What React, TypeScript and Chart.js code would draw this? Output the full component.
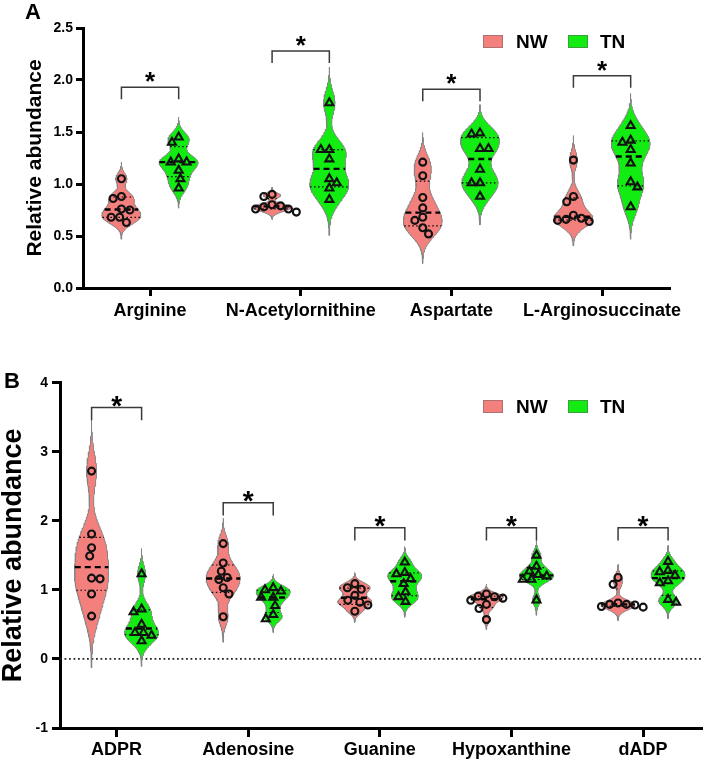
import React, { useEffect, useRef } from 'react';
import { Chart, registerables } from 'chart.js';

Chart.register(...registerables);

const FONT = "'Liberation Sans', Arial, Helvetica, sans-serif";
Chart.defaults.font.family = FONT;
Chart.defaults.color = '#000';

// ---------- Panel A data ----------
const categoriesA = ['Arginine', 'N-Acetylornithine', 'Aspartate', 'L-Arginosuccinate'];
const nwA = [
  [1.05, 0.88, 0.86, 0.76, 0.75, 0.68, 0.68, 0.63],
  [0.90, 0.88, 0.80, 0.79, 0.78, 0.76, 0.76, 0.73],
  [1.21, 1.08, 0.87, 0.77, 0.68, 0.65, 0.58, 0.52],
  [1.23, 0.88, 0.83, 0.70, 0.67, 0.66, 0.65, 0.64],
];
const tnA = [
  [1.45, 1.40, 1.24, 1.21, 1.21, 1.13, 1.05, 0.96],
  [1.78, 1.33, 1.33, 1.24, 1.05, 1.01, 0.96, 0.85],
  [1.49, 1.48, 1.34, 1.34, 1.14, 1.01, 1.01, 0.88],
  [1.56, 1.42, 1.40, 1.33, 1.20, 1.02, 0.97, 0.78],
];
const bracketA = [1.93, 2.28, 1.91, 2.04];
const yTicksA = [0, 0.5, 1.0, 1.5, 2.0, 2.5];

// ---------- Panel B data ----------
const categoriesB = ['ADPR', 'Adenosine', 'Guanine', 'Hypoxanthine', 'dADP'];
const nwB = [
  [2.72, 1.81, 1.61, 1.49, 1.17, 1.16, 0.94, 0.62],
  [1.67, 1.39, 1.27, 1.18, 1.15, 1.03, 0.94, 0.61],
  [1.09, 1.03, 1.01, 0.92, 0.85, 0.82, 0.78, 0.69],
  [0.94, 0.91, 0.90, 0.88, 0.85, 0.79, 0.73, 0.57],
  [1.18, 1.08, 0.81, 0.79, 0.79, 0.78, 0.76, 0.75],
];
const tnB = [
  [1.23, 0.72, 0.68, 0.50, 0.38, 0.38, 0.34, 0.26],
  [1.03, 1.00, 0.98, 0.89, 0.89, 0.77, 0.64, 0.58],
  [1.40, 1.25, 1.23, 1.16, 1.09, 0.97, 0.90, 0.83],
  [1.50, 1.34, 1.27, 1.22, 1.20, 1.15, 1.15, 0.85],
  [1.41, 1.28, 1.26, 1.21, 1.13, 1.10, 0.86, 0.82],
];
const bracketB = [3.64, 2.26, 1.90, 1.90, 1.90];
const yTicksB = [-1, 0, 1, 2, 3, 4];

const seriesNames = ['NW', 'TN'];

const NW_FILL = '#F4807E';
const TN_FILL = '#12EC12';
const OUTLINE = '#858585';

// ---------- helpers ----------
function quantile(v: number[], p: number) {
  const s = [...v].sort((a, b) => a - b);
  const n = s.length;
  let pos = (n + 1) * p - 1;
  if (pos < 0) pos = 0;
  if (pos > n - 1) pos = n - 1;
  const lo = Math.floor(pos), hi = Math.ceil(pos);
  return s[lo] + (s[hi] - s[lo]) * (pos - lo);
}
function stdev(v: number[]) {
  const m = v.reduce((a, b) => a + b, 0) / v.length;
  return Math.sqrt(v.reduce((a, b) => a + (b - m) * (b - m), 0) / (v.length - 1));
}
function violinGeom(vals: number[], halfW: number) {
  const h = 0.59 * stdev(vals) * Math.pow(vals.length, -0.2);
  const lo = Math.min(...vals) - 3 * h;
  const hi = Math.max(...vals) + 3 * h;
  const dens = (y: number) => vals.reduce((s, v) => s + Math.exp(-0.5 * ((y - v) / h) ** 2), 0);
  const N = 160;
  const ys: number[] = [];
  const ds: number[] = [];
  for (let i = 0; i <= N; i++) {
    const y = lo + ((hi - lo) * i) / N;
    ys.push(y);
    ds.push(dens(y));
  }
  const maxD = Math.max(...ds);
  return { ys, ws: ds.map((d) => (d / maxD) * halfW), width: (y: number) => (dens(y) / maxD) * halfW };
}
function swarm(vals: number[], pxY: number, D: number) {
  const idx = vals.map((_, i) => i).sort((a, b) => vals[b] - vals[a]);
  const placed: { x: number; y: number }[] = [];
  const out = new Array(vals.length).fill(0);
  let flip = 1;
  idx.forEach((i) => {
    const y = vals[i] * pxY;
    const ivs: [number, number][] = [];
    placed.forEach((p) => {
      const dy = Math.abs(p.y - y);
      if (dy < D) {
        const dx = Math.sqrt(D * D - dy * dy);
        ivs.push([p.x - dx, p.x + dx]);
      }
    });
    const cands = [0];
    ivs.forEach(([a, b]) => cands.push(a, b));
    const f = flip;
    cands.sort((a, b) => Math.abs(a) - Math.abs(b) || (a - b) * f);
    const x = cands.find((c) => ivs.every(([a, b]) => c <= a + 1e-9 || c >= b - 1e-9)) ?? 0;
    if (x !== 0) flip = -flip;
    placed.push({ x, y });
    out[i] = x;
  });
  return out;
}

type Spec = {
  cats: string[]; nw: number[][]; tn: number[][]; brackets: number[]; yTicks: number[];
  yFmt: (v: number) => string; xMin: number; xMax: number; height: number;
  padTop: number; padRight: number; xAxisH: number; yAxisW: number;
  xTickLen: number; xTickPad: number; yTickLen: number; yTickPad: number;
  titleSize: number; titlePad: number; legPx: number; starGap: number; starSize: number;
  zeroLine: boolean; letter: string; letterX: number; letterY: number; letterSize: number;
  legendTop: number; tickFont: number;
};

const OFFSET = 0.19;
const HALFW = 0.129;
const DOT = 8.5;

function buildDatasets(spec: Spec, pxX: number, pxY: number) {
  const ds: any[] = [];
  const groups = [
    { data: spec.nw, off: -OFFSET, fill: NW_FILL, style: 'circle', r: 3.5, name: seriesNames[0] },
    { data: spec.tn, off: OFFSET, fill: TN_FILL, style: 'triangle', r: 4.6, name: seriesNames[1] },
  ];
  groups.forEach((g) => {
    const pts: { x: number; y: number }[] = [];
    g.data.forEach((vals, ci) => {
      const c = ci + g.off;
      const geo = violinGeom(vals, HALFW);
      const poly: { x: number; y: number }[] = [];
      geo.ys.forEach((y, k) => poly.push({ x: c + geo.ws[k], y }));
      for (let k = geo.ys.length - 1; k >= 0; k--) poly.push({ x: c - geo.ws[k], y: geo.ys[k] });
      poly.push({ ...poly[0] });
      ds.push({
        label: g.name + ' violin', data: poly, showLine: true, fill: 'shape',
        backgroundColor: g.fill, borderColor: OUTLINE, borderWidth: 1, pointRadius: 0, order: 5,
      });
      const med = quantile(vals, 0.5), q1 = quantile(vals, 0.25), q3 = quantile(vals, 0.75);
      ([[q1, false], [q3, false], [med, true]] as [number, boolean][]).forEach(([y, isMed]) => {
        const w = geo.width(y);
        ds.push({
          data: [{ x: c - w, y }, { x: c + w, y }], showLine: true, fill: false,
          borderColor: '#000', borderWidth: isMed ? 2.4 : 1.2,
          borderDash: isMed ? [6, 4] : [1.5, 2.5], pointRadius: 0, order: 3,
        });
      });
      const offs = swarm(vals, pxY, DOT);
      vals.forEach((v, k) => pts.push({ x: c + offs[k] / pxX, y: v }));
    });
    ds.push({
      label: g.name, data: pts, showLine: false, pointStyle: g.style, pointRadius: g.r,
      pointBorderWidth: 2.1, pointBorderColor: '#111', pointBackgroundColor: 'rgba(0,0,0,0)', order: 1,
    });
  });
  spec.brackets.forEach((b, i) => {
    const leg = spec.legPx / pxY;
    ds.push({
      data: [
        { x: i - OFFSET, y: b - leg }, { x: i - OFFSET, y: b },
        { x: i + OFFSET, y: b }, { x: i + OFFSET, y: b - leg },
      ],
      showLine: true, fill: false, borderColor: '#3a3a3a', borderWidth: 1.5, pointRadius: 0, order: 2,
    });
  });
  if (spec.zeroLine) {
    ds.push({
      data: [{ x: spec.xMin, y: 0 }, { x: spec.xMax, y: 0 }], showLine: true, fill: false,
      borderColor: '#222', borderWidth: 1.8, borderDash: [1.8, 2.7], pointRadius: 0, order: 6,
    });
  }
  return ds;
}

function extrasPlugin(spec: Spec) {
  return {
    id: 'extras',
    afterDatasetsDraw(chart: any) {
      const ctx = chart.ctx;
      const xs = chart.scales.x, ys = chart.scales.y;
      ctx.save();
      ctx.fillStyle = '#000';
      ctx.font = `bold ${spec.starSize}px ${FONT}`;
      ctx.textAlign = 'center';
      ctx.textBaseline = 'alphabetic';
      spec.brackets.forEach((b, i) => {
        const x = xs.getPixelForValue(i);
        const y = ys.getPixelForValue(b) - spec.starGap;
        ctx.fillText('*', x, y + spec.starSize * 0.56);
      });
      const top = spec.legendTop;
      const items = [
        { bx: 483, tx: 516, fill: NW_FILL, border: '#b07070', label: seriesNames[0] },
        { bx: 568, tx: 600, fill: TN_FILL, border: '#3aa03a', label: seriesNames[1] },
      ];
      items.forEach((it) => {
        ctx.fillStyle = it.fill;
        ctx.fillRect(it.bx, top, 20, 13);
        ctx.strokeStyle = it.border;
        ctx.lineWidth = 1;
        ctx.strokeRect(it.bx + 0.5, top + 0.5, 19, 12);
        ctx.fillStyle = '#000';
        ctx.font = `bold 19px ${FONT}`;
        ctx.textAlign = 'left';
        ctx.textBaseline = 'middle';
        ctx.fillText(it.label, it.tx, top + 7.5);
      });
      ctx.font = `bold ${spec.letterSize}px ${FONT}`;
      ctx.textAlign = 'left';
      ctx.textBaseline = 'alphabetic';
      ctx.fillText(spec.letter, spec.letterX, spec.letterY);
      ctx.restore();
    },
  };
}

function makeConfig(spec: Spec, datasets: any[]): any {
  return {
    type: 'line',
    data: { datasets },
    options: {
      responsive: false,
      animation: false,
      events: [],
      layout: { padding: { left: 0, top: spec.padTop, right: spec.padRight, bottom: 0 } },
      plugins: { legend: { display: false }, tooltip: { enabled: false } },
      scales: {
        x: {
          type: 'linear', min: spec.xMin, max: spec.xMax,
          afterBuildTicks: (ax: any) => { ax.ticks = spec.cats.map((_, i) => ({ value: i })); },
          afterFit: (ax: any) => { ax.height = spec.xAxisH; },
          ticks: {
            callback: (v: number) => spec.cats[v] ?? '',
            font: { size: 18, weight: 'bold' }, color: '#000', padding: spec.xTickPad,
            maxRotation: 0, minRotation: 0, autoSkip: false,
          },
          grid: { drawOnChartArea: false, drawTicks: true, tickLength: spec.xTickLen, tickWidth: 3, tickColor: '#000' },
          border: { display: true, color: '#000', width: 3 },
        },
        y: {
          type: 'linear', min: spec.yTicks[0], max: spec.yTicks[spec.yTicks.length - 1],
          afterBuildTicks: (ax: any) => { ax.ticks = spec.yTicks.map((v) => ({ value: v })); },
          afterFit: (ax: any) => { ax.width = spec.yAxisW; },
          ticks: {
            callback: (v: number) => spec.yFmt(v),
            font: { size: spec.tickFont, weight: 'bold' }, color: '#000', padding: spec.yTickPad,
          },
          grid: { drawOnChartArea: false, drawTicks: true, tickLength: spec.yTickLen, tickWidth: 3, tickColor: '#000' },
          border: { display: true, color: '#000', width: 3 },
          title: {
            display: true, text: 'Relative abundance', color: '#000',
            font: { size: spec.titleSize, weight: 'bold', lineHeight: 1 },
            padding: { top: spec.titlePad, bottom: 0 },
          },
        },
      },
    },
    plugins: [extrasPlugin(spec)],
  };
}

const specA: Spec = {
  cats: categoriesA, nw: nwA, tn: tnA, brackets: bracketA, yTicks: yTicksA,
  yFmt: (v) => v.toFixed(1), xMin: -0.445, xMax: 3.451, height: 340,
  padTop: 28, padRight: 39, xAxisH: 52, yAxisW: 83,
  xTickLen: 8, xTickPad: 4, yTickLen: 7, yTickPad: 3,
  titleSize: 21, titlePad: 24.5, legPx: 12, starGap: 11.5, starSize: 26,
  zeroLine: false, letter: 'A', letterX: 25, letterY: 19, letterSize: 22,
  legendTop: 35, tickFont: 14,
};

const specB: Spec = {
  cats: categoriesB, nw: nwB, tn: tnB, brackets: bracketB, yTicks: yTicksB,
  yFmt: (v) => String(v), xMin: -0.43, xMax: 4.45, height: 422,
  padTop: 42.7, padRight: 2, xAxisH: 34, yAxisW: 60,
  xTickLen: 9, xTickPad: 2, yTickLen: 8, yTickPad: 4,
  titleSize: 27, titlePad: 0.5, legPx: 12.7, starGap: 8.5, starSize: 28,
  zeroLine: true, letter: 'B', letterX: 4, letterY: 48, letterSize: 22,
  legendTop: 60, tickFont: 14,
};

function Panel({ spec }: { spec: Spec }) {
  const ref = useRef<HTMLCanvasElement | null>(null);
  useEffect(() => {
    if (!ref.current) return;
    const chart = new Chart(ref.current, makeConfig(spec, buildDatasets(spec, 150, 100)));
    const xs: any = chart.scales.x;
    const ys: any = chart.scales.y;
    const pxX = Math.abs(xs.getPixelForValue(1) - xs.getPixelForValue(0));
    const pxY = Math.abs(ys.getPixelForValue(1) - ys.getPixelForValue(0));
    chart.data.datasets = buildDatasets(spec, pxX, pxY);
    chart.update('none');
    return () => chart.destroy();
  }, [spec]);
  return (
    <canvas
      ref={ref}
      width={709}
      height={spec.height}
      style={{ display: 'block', width: 709, height: spec.height }}
    />
  );
}

export default function App() {
  return (
    <div style={{ position: 'absolute', left: 0, top: 0, width: 709, height: 762, background: '#fff' }}>
      <Panel spec={specA} />
      <Panel spec={specB} />
    </div>
  );
}
